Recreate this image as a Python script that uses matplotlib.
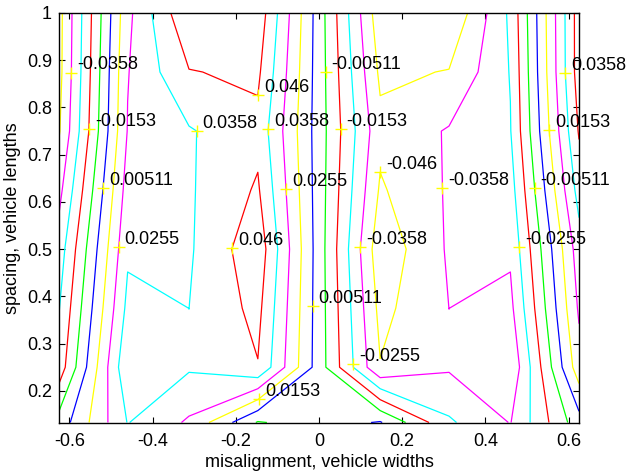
import numpy as np
import matplotlib
matplotlib.use("Agg")
import matplotlib.pyplot as plt
from matplotlib.transforms import ScaledTranslation

plt.rcParams['font.family'] = ['Liberation Sans', 'DejaVu Sans']
plt.rcParams['axes.unicode_minus'] = False

# grid: misalignment (vehicle widths) and spacing (vehicle lengths)
x_widths = [-0.625, -0.46, -0.3125, -0.147, 0.0, 0.147, 0.3125, 0.46, 0.625]
y_lengths = [0.133, 0.25, 0.375, 0.5, 0.625, 0.75, 0.875, 1.0]

# values, one list per spacing row
z_y0133 = [-0.001, 0.0362, 0.024, -0.006, 0.0, 0.006, -0.024, -0.0362, 0.001]
z_y0250 = [-0.0213, 0.0446, 0.037, 0.0455, 0.0, -0.0455, -0.037, -0.0446, 0.0213]
z_y0375 = [-0.026, 0.0385, 0.03578, 0.049, 0.0, -0.049, -0.03578, -0.0385, 0.027]
z_y0500 = [-0.031, 0.0341, 0.0345, 0.053, 0.0, -0.053, -0.0345, -0.0341, 0.031]
z_y0625 = [-0.039, 0.030, 0.0346, 0.0473, 0.0, -0.0473, -0.0346, -0.030, 0.040]
z_y0750 = [-0.047, 0.026, 0.0349, 0.043, 0.0, -0.043, -0.0349, -0.026, 0.047]
z_y0875 = [-0.0492, 0.025, 0.0455, 0.048, 0.0, -0.048, -0.0455, -0.025, 0.051]
z_y1000 = [-0.0495, 0.0228, 0.0558, 0.0528, 0.0, -0.0528, -0.0558, -0.0235, 0.051]

levels = [-0.046, -0.0358, -0.0255, -0.0153, -0.00511,
          0.00511, 0.0153, 0.0255, 0.0358, 0.046]
level_texts = ['-0.046', '-0.0358', '-0.0255', '-0.0153', '-0.00511',
               '0.00511', '0.0153', '0.0255', '0.0358', '0.046']
line_colors = ['#ffff00', '#ff00ff', '#00ffff', '#ff0000', '#00ff00',
               '#0000ff', '#ffff00', '#ff00ff', '#00ffff', '#ff0000']

# approximate spots where the contour labels sit
label_spots = [(-0.596, 0.874), (-0.552, 0.754), (-0.521, 0.629), (-0.29, 0.754),
               (-0.146, 0.827), (-0.122, 0.754), (0.017, 0.875), (0.05, 0.754),
               (0.147, 0.667), (-0.079, 0.628), (-0.481, 0.504), (-0.212, 0.504),
               (0.095, 0.504), (-0.015, 0.379), (0.083, 0.256), (-0.146, 0.185),
               (0.299, 0.629), (0.522, 0.629), (0.594, 0.874), (0.551, 0.753),
               (0.479, 0.504)]

x_ticks = [-0.6, -0.4, -0.2, 0.0, 0.2, 0.4, 0.6]
x_tick_labels = ['-0.6', '-0.4', '-0.2', '0', '0.2', '0.4', '0.6']
y_ticks = [0.2, 0.3, 0.4, 0.5, 0.6, 0.7, 0.8, 0.9, 1.0]
y_tick_labels = ['0.2', '0.3', '0.4', '0.5', '0.6', '0.7', '0.8', '0.9', '1']

Z = np.array([z_y0133, z_y0250, z_y0375, z_y0500, z_y0625, z_y0750, z_y0875, z_y1000])
X, Y = np.meshgrid(x_widths, y_lengths)

fig = plt.figure(figsize=(6.3, 4.76), dpi=100)
ax = fig.add_axes([59 / 630, 1 - 422.5 / 476, 520 / 630, (422.5 - 13) / 476])

cs = ax.contour(X, Y, Z, levels=levels, colors=line_colors, linewidths=0.9)
fmt = {lv: tx for lv, tx in zip(cs.levels, level_texts)}
texts = ax.clabel(cs, cs.levels, inline=False, fmt=fmt, manual=label_spots,
                  fontsize=13, colors='k')

offset = ScaledTranslation(4.3 / 72, 2.2 / 72, fig.dpi_scale_trans)
for t in texts:
    px, py = t.get_position()
    ax.plot([px], [py], '+', color='#ffff00', ms=8, mew=1.0, zorder=4)
    t.set_rotation(0)
    t.set_ha('left')
    t.set_va('baseline')
    t.set_transform(ax.transData + offset)
    t.set_clip_on(False)

ax.set_xlim(x_widths[0], x_widths[-1])
ax.set_ylim(y_lengths[0], y_lengths[-1])
ax.set_xticks(x_ticks)
ax.set_xticklabels(x_tick_labels)
ax.set_yticks(y_ticks)
ax.set_yticklabels(y_tick_labels)
ax.tick_params(direction='in', top=True, right=True, length=4, width=0.8,
               labelsize=13, colors='k')
ax.tick_params(axis='x', pad=7.5)
ax.tick_params(axis='y', pad=5)
for s in ax.spines.values():
    s.set_linewidth(1.0)
ax.set_xlabel('misalignment, vehicle widths', fontsize=13, labelpad=3)
ax.set_ylabel('spacing, vehicle lengths', fontsize=13, labelpad=4)

fig.savefig('out.png', dpi=100)
